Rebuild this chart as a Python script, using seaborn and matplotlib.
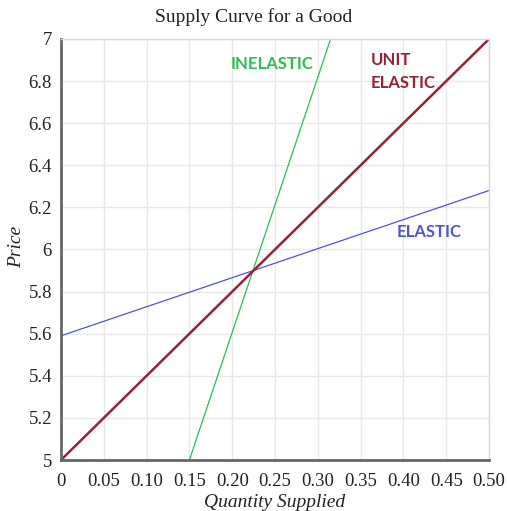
import matplotlib
matplotlib.use("Agg")
import matplotlib.pyplot as plt
import seaborn as sns
import pandas as pd

# Data
inelastic_q = [0.15, 0.315]
inelastic_p = [5.0, 7.0]
unit_q = [0.0, 0.5]
unit_p = [5.0, 7.0]
elastic_q = [0.0, 0.5]
elastic_p = [5.59, 6.28]
x_ticks = [0, 0.05, 0.10, 0.15, 0.20, 0.25, 0.30, 0.35, 0.40, 0.45, 0.50]
x_tick_labels = ["0", "0.05", "0.10", "0.15", "0.20", "0.25", "0.30", "0.35", "0.40", "0.45", "0.50"]
y_ticks = [5, 5.2, 5.4, 5.6, 5.8, 6, 6.2, 6.4, 6.6, 6.8, 7]
y_tick_labels = ["5", "5.2", "5.4", "5.6", "5.8", "6", "6.2", "6.4", "6.6", "6.8", "7"]

sns.set_theme(style="whitegrid")
plt.rcParams['font.family'] = ['Liberation Serif', 'DejaVu Serif']

fig = plt.figure(figsize=(5.07, 5.11), dpi=100)
ax = fig.add_axes([0.1203, 0.0998, 0.9645 - 0.1203, 0.9237 - 0.0998])

df = pd.concat([
    pd.DataFrame({"q": inelastic_q, "p": inelastic_p, "curve": "INELASTIC"}),
    pd.DataFrame({"q": unit_q, "p": unit_p, "curve": "UNIT"}),
    pd.DataFrame({"q": elastic_q, "p": elastic_p, "curve": "ELASTIC"}),
])
green = "#2ebd4e"
red = "#962232"
blue = "#4b55d8"
sns.lineplot(data=df[df.curve == "INELASTIC"], x="q", y="p", color=green, lw=0.9, ax=ax)
sns.lineplot(data=df[df.curve == "ELASTIC"], x="q", y="p", color=blue, lw=0.9, ax=ax)
sns.lineplot(data=df[df.curve == "UNIT"], x="q", y="p", color=red, lw=1.8, ax=ax)

ax.set_xlim(0, 0.5)
ax.set_ylim(5, 7)
ax.set_xticks(x_ticks)
ax.set_xticklabels(x_tick_labels)
ax.set_yticks(y_ticks)
ax.set_yticklabels(y_tick_labels)
ax.tick_params(axis='both', labelsize=13.5, colors="#222222", length=0)
ax.tick_params(axis='x', pad=9.5)
ax.tick_params(axis='y', pad=6.5)
ax.grid(True, color="#e8e8e8", lw=1)
for s in ["top", "right"]:
    ax.spines[s].set_color("#d8d8d8")
    ax.spines[s].set_linewidth(1)
for s in ["left", "bottom"]:
    ax.spines[s].set_color("#666666")
    ax.spines[s].set_linewidth(2)

ax.set_xlabel("Quantity Supplied", fontsize=14, fontstyle="italic", labelpad=2.5, color="#222222")
ax.set_ylabel("Price", fontsize=14, fontstyle="italic", color="#222222")
ax.yaxis.set_label_coords(-0.084, 0.506)
fig.suptitle("Supply Curve for a Good", x=0.5, y=0.985, va="top", fontsize=14, color="#222222")

sans = ['Lato', 'DejaVu Sans']
fs = 12
ax.text(0.2465, 6.88, "INELASTIC", color=green, fontsize=fs, fontweight="bold",
        ha="center", va="center", family=sans)
ax.text(0.362, 6.90, "UNIT", color=red, fontsize=fs, fontweight="bold",
        ha="left", va="center", family=sans)
ax.text(0.362, 6.79, "ELASTIC", color=red, fontsize=fs, fontweight="bold",
        ha="left", va="center", family=sans)
ax.text(0.3925, 6.083, "ELASTIC", color=blue, fontsize=fs, fontweight="bold",
        ha="left", va="center", family=sans)

fig.savefig("out.png", dpi=100)
